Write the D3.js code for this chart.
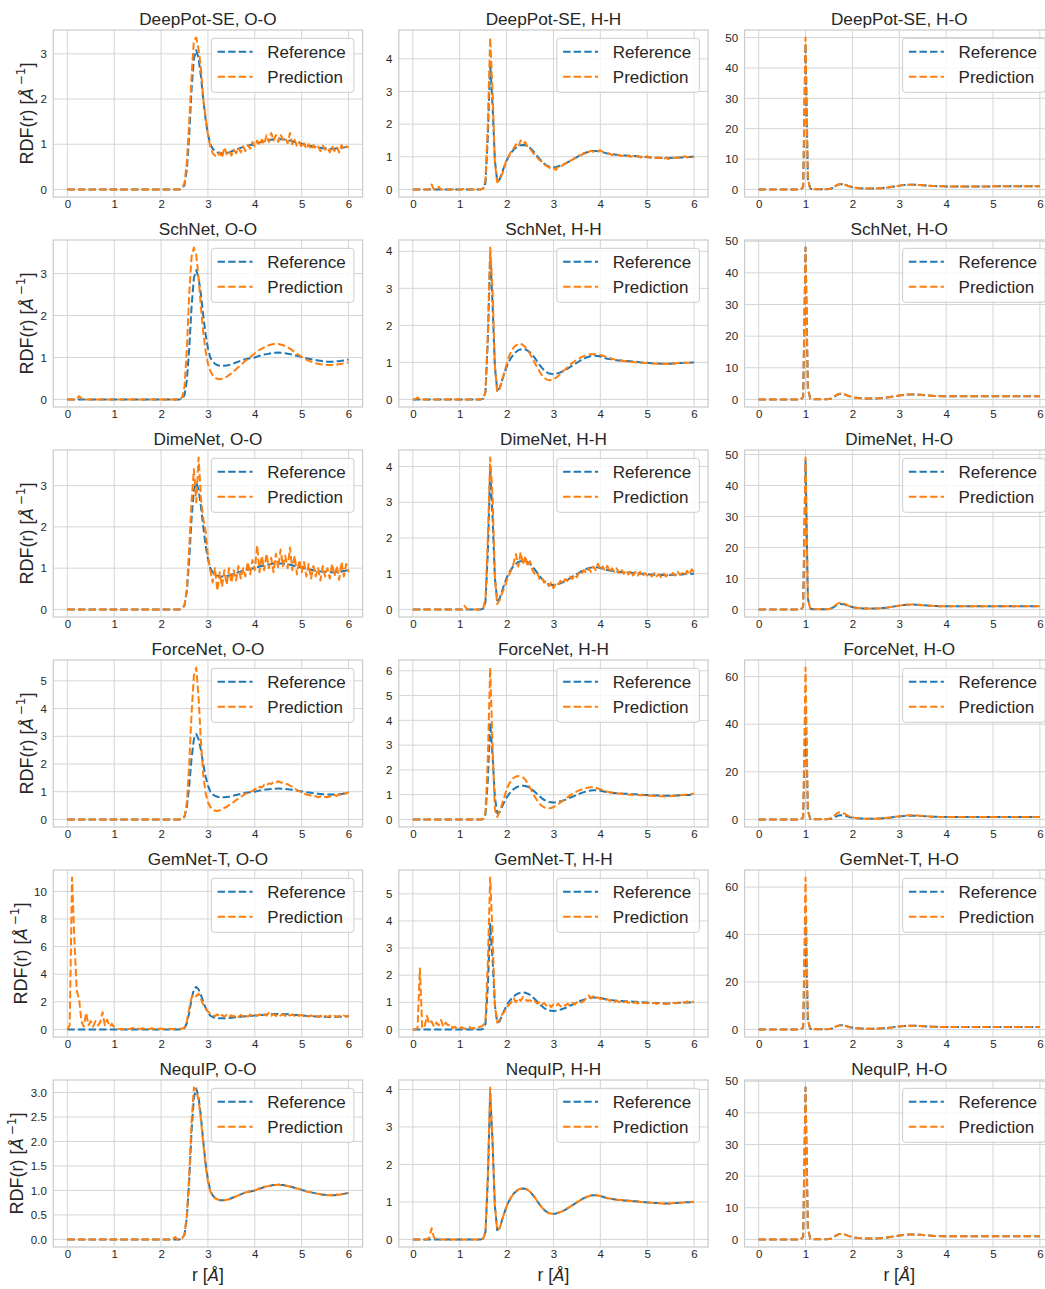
<!DOCTYPE html>
<html><head><meta charset="utf-8">
<script src="https://cdn.jsdelivr.net/npm/d3@7"></script>
<style>
body{margin:0;background:#fff}
svg{display:block}
text{font-family:"Liberation Sans",Arial,sans-serif;fill:#262626}
</style>
</head><body>
<svg id="chart" width="1045" height="1289"></svg>
<script>
// ---------- data ----------
const r = [
0,0.05,0.1,0.15,0.2,0.25,0.3,0.35,0.4,0.45,
0.5,0.55,0.6,0.65,0.7,0.75,0.8,0.85,0.9,0.95,
1,1.05,1.1,1.15,1.2,1.25,1.3,1.35,1.4,1.45,
1.5,1.55,1.6,1.65,1.7,1.75,1.8,1.85,1.9,1.95,
2,2.05,2.1,2.15,2.2,2.25,2.3,2.35,2.4,2.45,
2.5,2.55,2.6,2.65,2.7,2.75,2.8,2.85,2.9,2.95,
3,3.05,3.1,3.15,3.2,3.25,3.3,3.35,3.4,3.45,
3.5,3.55,3.6,3.65,3.7,3.75,3.8,3.85,3.9,3.95,
4,4.05,4.1,4.15,4.2,4.25,4.3,4.35,4.4,4.45,
4.5,4.55,4.6,4.65,4.7,4.75,4.8,4.85,4.9,4.95,
5,5.05,5.1,5.15,5.2,5.25,5.3,5.35,5.4,5.45,
5.5,5.55,5.6,5.65,5.7,5.75,5.8,5.85,5.9,5.95,
6];

const models = ["DeepPot-SE","SchNet","DimeNet","ForceNet","GemNet-T","NequIP"];
const pairs = ["O-O","H-H","H-O"];
const seriesNames = ["Reference","Prediction"];
const xTicks = [0,1,2,3,4,5,6];

const ticksOO = [0,1,2,3];
const ticksHH = [0,1,2,3,4];
const ticksHO = [0,10,20,30,40,50];
const ticksOO5 = [0,1,2,3,4,5];
const ticksHH6 = [0,1,2,3,4,5,6];
const ticksHO60 = [0,20,40,60];
const ticksOO10 = [0,2,4,6,8,10];
const ticksHH5 = [0,1,2,3,4,5];
const ticksOOdec = [0,0.5,1,1.5,2,2.5,3];

const refOO = [
0,0,0,0,0,0,0,0,0,0,
0,0,0,0,0,0,0,0,0,0,
0,0,0,0,0,0,0,0,0,0,
0,0,0,0,0,0,0,0,0,0,
0,0,0,0,0,0,0,0,0,0.02,
0.1,0.45,1.2,2.2,2.9,3.08,2.9,2.5,2.0,1.55,
1.22,1.0,0.9,0.85,0.82,0.8,0.8,0.8,0.81,0.82,
0.84,0.86,0.88,0.9,0.92,0.94,0.96,0.97,0.98,0.99,
1.0,1.02,1.04,1.05,1.07,1.08,1.09,1.1,1.11,1.11,
1.12,1.11,1.11,1.1,1.09,1.08,1.07,1.05,1.04,1.03,
1.01,1.0,0.98,0.97,0.96,0.95,0.94,0.93,0.92,0.91,
0.91,0.9,0.9,0.9,0.9,0.91,0.91,0.92,0.93,0.94,
0.95];

const refHH = [
0,0,0,0,0,0,0,0,0,0,
0,0,0,0,0,0,0,0,0,0,
0,0,0,0,0,0,0,0,0,0,
0.02,0.2,1.6,3.9,2.6,0.9,0.25,0.3,0.5,0.7,
0.88,1.02,1.13,1.22,1.28,1.33,1.35,1.36,1.35,1.32,
1.27,1.2,1.12,1.03,0.94,0.86,0.79,0.74,0.7,0.69,
0.68,0.69,0.71,0.73,0.76,0.79,0.83,0.87,0.91,0.95,
0.99,1.03,1.07,1.1,1.13,1.15,1.17,1.18,1.18,1.17,
1.16,1.14,1.12,1.1,1.09,1.08,1.07,1.06,1.05,1.05,
1.04,1.04,1.03,1.03,1.02,1.02,1.01,1.0,1.0,0.99,
0.99,0.98,0.98,0.97,0.97,0.97,0.96,0.96,0.96,0.96,
0.96,0.97,0.97,0.97,0.98,0.98,0.99,0.99,0.99,1.0,
1.0];

const refHO = [
0,0,0,0,0,0,0,0,0,0,
0,0,0,0,0,0,0,0,0,0.8,
48,3.5,0.3,0.05,0.02,0.02,0.02,0.03,0.04,0.06,
0.12,0.3,0.7,1.2,1.6,1.75,1.7,1.5,1.2,0.95,
0.75,0.6,0.5,0.42,0.36,0.32,0.3,0.29,0.29,0.3,
0.32,0.35,0.4,0.46,0.54,0.63,0.74,0.86,0.98,1.1,
1.22,1.33,1.42,1.49,1.53,1.55,1.55,1.53,1.49,1.44,
1.38,1.32,1.26,1.2,1.15,1.11,1.07,1.04,1.02,1.0,
0.99,0.98,0.98,0.98,0.98,0.98,0.98,0.98,0.99,0.99,
0.99,0.99,0.99,0.99,0.99,0.99,0.99,0.99,0.99,0.99,
1,1,1,1,1,1,1,1,1,1,
1,1,1,1,1,1,1,1,1,1,
1];

const predDeepPotOO = [
0,0,0,0,0,0,0,0,0,0,
0,0,0,0,0,0,0,0,0,0,
0,0,0,0,0,0,0,0,0,0,
0,0,0,0,0,0,0,0,0,0,
0,0,0,0,0,0,0,0,0,0.02,
0.15,0.6,1.5,2.5,3.3,3.36,3.1,2.7,2.0,1.6,
1.2,0.95,0.8,0.75,0.72,0.82,0.7,0.93,0.78,0.85,
0.75,0.88,0.8,0.92,0.82,0.95,0.85,0.98,0.9,1.05,
0.95,1.08,0.98,1.1,1.0,1.2,1.05,1.25,1.08,1.2,
1.05,1.22,1.1,1.15,1.02,1.25,1.0,1.1,0.95,1.05,
0.92,1.02,0.9,1.0,0.88,0.98,0.9,0.95,0.85,0.97,
0.88,0.93,0.82,0.96,0.85,0.95,0.82,0.98,0.88,0.95,
0.93];

const predDeepPotHH = [
0,0,0,0,0,0,0,0,0.15,0,
0,0.08,0,0,0,0,0,0,0.03,0,
0,0,0.02,0,0,0,0,0,0,0,
0.02,0.3,2.0,4.65,3.0,0.8,0.22,0.28,0.45,0.65,
0.95,1.0,1.2,1.25,1.38,1.3,1.5,1.4,1.45,1.3,
1.25,1.15,1.05,0.98,0.9,0.85,0.78,0.72,0.68,0.62,
0.65,0.6,0.7,0.68,0.75,0.8,0.82,0.88,0.9,0.95,
0.98,1.05,1.05,1.12,1.1,1.15,1.18,1.15,1.2,1.18,
1.2,1.15,1.12,1.1,1.1,1.05,1.08,1.05,1.06,1.02,
1.05,1.02,1.03,1.0,1.02,0.98,1.03,0.98,1.0,0.96,
1.02,0.97,1.0,0.95,0.98,0.96,0.97,0.92,0.98,0.93,
0.97,0.95,0.98,0.96,1.0,0.97,1.02,0.98,1.0,0.98,
1.0];

const predDeepPotHO = [
0,0,0,0,0,0,0,0,0,0,
0,0,0,0,0,0,0,0,0,0.9,
50,3.2,0.25,0.05,0.02,0.02,0.03,0.03,0.05,0.07,
0.14,0.35,0.75,1.25,1.65,1.8,1.72,1.5,1.2,0.95,
0.74,0.6,0.5,0.42,0.36,0.32,0.3,0.29,0.29,0.3,
0.32,0.36,0.41,0.47,0.55,0.64,0.75,0.87,0.99,1.11,
1.23,1.34,1.43,1.5,1.54,1.56,1.55,1.53,1.49,1.44,
1.38,1.32,1.26,1.2,1.15,1.1,1.07,1.04,1.02,1.0,
0.99,0.98,0.98,0.98,0.98,0.98,0.98,0.98,0.99,0.99,
0.99,0.99,0.99,0.99,0.99,0.99,0.99,0.99,0.99,0.99,
1,1,1,1,1,1,1,1,1,1,
1,1,1,1,1,1,1,1,1,1,
1];

const predSchNetOO = [
0,0,0,0,0,0.08,0.02,0.03,0,0,
0,0,0,0,0,0,0,0,0,0,
0,0,0,0,0,0,0,0,0,0,
0,0,0,0,0,0,0,0,0,0,
0,0,0,0,0,0,0,0,0,0.05,
0.3,1.2,2.5,3.4,3.62,3.45,2.9,2.2,1.6,1.15,
0.85,0.68,0.58,0.52,0.49,0.48,0.49,0.51,0.54,0.58,
0.62,0.67,0.72,0.77,0.82,0.87,0.92,0.97,1.01,1.05,
1.1,1.14,1.18,1.21,1.24,1.27,1.29,1.31,1.32,1.32,
1.32,1.31,1.29,1.27,1.24,1.21,1.17,1.13,1.09,1.05,
1.01,0.98,0.95,0.92,0.9,0.88,0.86,0.85,0.84,0.83,
0.82,0.82,0.82,0.82,0.82,0.83,0.84,0.85,0.86,0.87,
0.88];

const predSchNetHH = [
0,0,0.05,0,0,0,0,0,0,0,
0,0,0,0,0,0,0,0,0,0,
0,0,0,0,0,0,0,0,0,0,
0.02,0.2,1.8,4.1,3.0,0.9,0.2,0.28,0.48,0.72,
0.95,1.15,1.3,1.4,1.46,1.5,1.5,1.47,1.41,1.33,
1.23,1.11,0.99,0.87,0.76,0.66,0.59,0.54,0.52,0.52,
0.54,0.58,0.63,0.69,0.75,0.81,0.87,0.93,0.98,1.03,
1.07,1.11,1.14,1.17,1.19,1.21,1.22,1.22,1.22,1.21,
1.2,1.18,1.16,1.14,1.12,1.1,1.08,1.07,1.06,1.05,
1.04,1.03,1.02,1.02,1.01,1.0,1.0,0.99,0.99,0.98,
0.98,0.97,0.97,0.97,0.96,0.96,0.96,0.96,0.96,0.96,
0.97,0.97,0.97,0.98,0.98,0.98,0.99,0.99,0.99,1.0,
1.0];

const predSchNetHO = [
0,0,0,0,0,0,0,0,0,0,
0,0,0,0,0,0,0,0,0,0.7,
48,3.5,0.3,0.05,0.02,0.02,0.02,0.03,0.04,0.06,
0.12,0.32,0.75,1.3,1.75,1.9,1.8,1.55,1.22,0.95,
0.74,0.58,0.47,0.39,0.33,0.29,0.27,0.26,0.26,0.27,
0.29,0.33,0.38,0.45,0.53,0.63,0.74,0.86,0.99,1.12,
1.25,1.36,1.45,1.52,1.57,1.59,1.59,1.57,1.52,1.46,
1.39,1.32,1.25,1.19,1.14,1.1,1.06,1.03,1.01,0.99,
0.98,0.97,0.97,0.97,0.97,0.98,0.98,0.98,0.99,0.99,
0.99,0.99,0.99,0.99,0.99,0.99,0.99,0.99,0.99,0.99,
1,1,1,1,1,1,1,1,1,1,
1,1,1,1,1,1,1,1,1,1,
1];

const predDimeNetOO = [
0,0,0,0,0,0,0,0,0,0,
0,0,0,0,0,0,0,0,0,0,
0,0,0,0,0,0,0,0,0,0,
0,0,0,0,0,0,0,0,0,0,
0,0,0,0,0,0,0,0,0,0.02,
0.1,0.5,1.5,2.6,3.4,2.6,3.68,2.7,2.2,1.9,
1.3,0.95,0.65,1.0,0.45,0.9,0.55,0.95,0.6,1.0,
0.65,0.95,0.7,1.05,0.75,1.0,0.8,1.15,0.85,1.2,
0.95,1.55,0.9,1.3,0.95,1.35,1.0,1.25,0.9,1.35,
1.0,1.45,1.05,1.3,1.0,1.5,0.95,1.3,0.85,1.2,
0.9,1.15,0.8,1.1,0.75,1.05,0.8,1.0,0.7,1.05,
0.8,1.0,0.75,1.1,0.8,1.05,0.72,1.15,0.8,1.1,
0.9];

const predDimeNetHH = [
0,0,0,0,0,0,0,0,0,0,
0,0,0,0,0,0,0,0,0,0,
0,0,0.1,0.02,0,0,0,0,0,0,
0.02,0.3,2.0,4.25,3.2,0.9,0.15,0.25,0.45,0.6,
0.8,0.95,1.1,1.3,1.55,1.2,1.6,1.25,1.5,1.2,
1.35,1.1,1.0,1.05,0.85,0.9,0.75,0.8,0.65,0.75,
0.6,0.72,0.68,0.8,0.72,0.85,0.8,0.92,0.85,0.98,
0.9,1.05,1.0,1.1,1.02,1.15,1.05,1.2,1.1,1.28,
1.1,1.2,1.08,1.22,1.05,1.15,1.05,1.15,1.02,1.12,
1.0,1.1,0.98,1.08,0.95,1.05,0.95,1.05,0.92,1.02,
0.95,1.0,0.92,1.02,0.93,0.98,0.9,1.0,0.92,0.98,
0.95,1.02,0.95,1.05,0.97,1.02,0.95,1.08,0.98,1.12,
1.05];

const predDimeNetHO = [
0,0,0,0,0,0,0,0,0,0,
0,0,0,0,0,0,0,0,0,0.8,
49,3.4,0.3,0.05,0.02,0.03,0.02,0.04,0.05,0.08,
0.15,0.4,0.9,1.5,2.0,2.2,2.0,1.7,1.3,1.0,
0.8,0.62,0.5,0.42,0.36,0.32,0.3,0.29,0.29,0.3,
0.32,0.35,0.4,0.46,0.54,0.63,0.74,0.86,0.98,1.1,
1.22,1.33,1.42,1.49,1.53,1.55,1.55,1.53,1.49,1.44,
1.38,1.32,1.26,1.2,1.15,1.11,1.07,1.04,1.02,1.0,
0.99,0.98,0.98,0.98,0.98,0.98,0.98,0.98,0.99,0.99,
0.99,0.99,0.99,0.99,0.99,0.99,0.99,0.99,0.99,0.99,
1,1,1,1,1,1,1,1,1,1,
1,1,1,1,1,1,1,1,1,1,
1];

const predForceNetOO = [
0,0,0,0,0,0,0,0,0,0,
0,0,0,0,0,0,0,0,0,0,
0,0,0,0,0,0,0,0,0,0,
0,0,0,0,0,0,0,0,0,0,
0,0,0,0,0,0,0,0,0,0.01,
0.1,0.6,2.0,3.8,5.2,5.48,4.4,2.8,1.6,0.95,
0.62,0.45,0.36,0.31,0.3,0.33,0.36,0.42,0.45,0.52,
0.55,0.63,0.7,0.75,0.82,0.86,0.93,0.95,1.0,1.02,
1.1,1.08,1.18,1.15,1.25,1.22,1.3,1.28,1.35,1.32,
1.38,1.33,1.32,1.28,1.27,1.22,1.18,1.12,1.05,1.02,
0.97,0.93,0.9,0.88,0.86,0.82,0.84,0.8,0.83,0.79,
0.82,0.8,0.84,0.82,0.87,0.85,0.9,0.88,0.95,0.93,
1.0];

const predForceNetHH = [
0,0,0,0,0,0,0,0,0,0,
0,0,0,0,0,0,0,0,0,0,
0,0,0,0,0,0,0,0,0,0,
0.02,0.3,2.5,6.13,3.0,0.4,0.1,0.3,0.6,0.9,
1.2,1.42,1.58,1.68,1.73,1.75,1.74,1.7,1.6,1.45,
1.28,1.1,0.92,0.77,0.64,0.55,0.49,0.46,0.45,0.46,
0.5,0.55,0.61,0.68,0.75,0.82,0.89,0.96,1.02,1.08,
1.13,1.17,1.21,1.24,1.27,1.29,1.3,1.3,1.28,1.25,
1.22,1.18,1.15,1.12,1.1,1.08,1.07,1.06,1.05,1.04,
1.03,1.02,1.01,1.0,1.0,0.99,0.99,0.98,0.98,0.97,
0.97,0.96,0.96,0.95,0.95,0.94,0.94,0.93,0.93,0.94,
0.94,0.95,0.96,0.97,0.98,0.99,1.0,1.01,1.02,1.03,
1.04];

const predForceNetHO = [
0,0,0,0,0,0,0,0,0,0,
0,0,0,0,0,0,0,0,0,1.0,
63.8,4.0,0.3,0.05,0.02,0.02,0.02,0.03,0.05,0.08,
0.2,0.6,1.3,2.2,2.9,3.1,2.8,2.2,1.6,1.2,
0.9,0.7,0.55,0.45,0.38,0.33,0.3,0.29,0.29,0.3,
0.32,0.36,0.42,0.5,0.6,0.72,0.85,0.98,1.12,1.25,
1.38,1.5,1.6,1.68,1.73,1.75,1.74,1.7,1.64,1.56,
1.47,1.38,1.3,1.22,1.16,1.11,1.07,1.04,1.02,1.0,
0.99,0.98,0.98,0.98,0.98,0.98,0.98,0.98,0.99,0.99,
0.99,0.99,0.99,0.99,0.99,0.99,0.99,0.99,0.99,0.99,
1,1,1,1,1,1,1,1,1,1,
1,1,1,1,1,1,1,1,1,1,
1];

const predGemNetOO = [
0,0.3,11.0,6.5,2.8,2.2,0.6,0.2,1.2,0.3,
0.6,0.2,0.6,0.3,0.5,1.25,0.3,0.7,0.2,0.4,
0.15,0.05,0.02,0.05,0.01,0.08,0.02,0.05,0.1,0.02,
0.06,0.02,0.08,0.03,0.05,0.02,0.08,0.02,0.05,0.03,
0.06,0.02,0.05,0.03,0.04,0.01,0.05,0.02,0.05,0.05,
0.15,0.6,1.5,2.3,2.55,2.4,2.6,2.2,1.8,1.55,
1.3,1.15,1.05,0.95,1.1,0.9,1.05,0.92,1.05,0.9,
1.02,0.92,1.05,0.9,1.05,0.95,1.05,0.92,1.08,0.95,
1.05,0.98,1.1,0.95,1.08,1.0,1.2,1.0,1.1,0.98,
1.12,1.0,1.1,0.98,1.1,1.0,1.08,0.98,1.1,0.98,
1.05,0.95,1.05,0.92,1.02,0.92,1.0,0.9,1.0,0.88,
0.98,0.9,1.0,0.88,0.98,0.9,0.98,0.88,1.0,0.92,
1.02];

const predGemNetHH = [
0,0,0.05,2.25,0.05,0.1,0.5,0.2,0.3,0.1,
0.25,0.15,0.35,0.1,0.25,0.15,0.2,0.05,0.1,0.02,
0.05,0.08,0.02,0.05,0.1,0.03,0.05,0.02,0.08,0.1,
0.15,0.35,2.5,5.6,3.5,0.9,0.25,0.35,0.55,0.65,
0.8,0.9,1.0,1.15,1.0,1.15,1.05,1.2,1.1,1.05,
1.08,1.0,1.05,0.95,1.0,0.9,0.98,0.88,0.95,0.82,
0.92,0.85,0.95,0.85,0.92,0.88,0.95,0.88,0.98,0.92,
1.0,0.95,1.0,1.05,1.15,1.25,1.15,1.22,1.15,1.18,
1.12,1.15,1.08,1.12,1.05,1.08,1.02,1.06,1.0,1.05,
1.0,1.03,0.98,1.02,0.97,1.01,0.96,1.0,0.96,0.99,
0.96,0.98,0.95,0.98,0.94,0.97,0.94,0.96,0.93,0.97,
0.95,0.98,0.96,0.99,0.97,1.02,0.98,1.03,0.99,1.02,
1.0];

const predGemNetHO = [
0,0,0,0,0,0,0,0,0,0,
0,0,0,0,0,0,0,0,0,1.0,
64,4.0,0.4,0.06,0.03,0.02,0.02,0.03,0.05,0.08,
0.14,0.35,0.75,1.25,1.6,1.75,1.68,1.48,1.2,0.95,
0.75,0.6,0.5,0.42,0.36,0.32,0.3,0.29,0.29,0.3,
0.32,0.35,0.4,0.46,0.54,0.63,0.74,0.86,0.98,1.1,
1.22,1.33,1.42,1.49,1.53,1.55,1.55,1.53,1.49,1.44,
1.38,1.32,1.26,1.2,1.15,1.11,1.07,1.04,1.02,1.0,
0.99,0.98,0.98,0.98,0.98,0.98,0.98,0.98,0.99,0.99,
0.99,0.99,0.99,0.99,0.99,0.99,0.99,0.99,0.99,0.99,
1,1,1,1,1,1,1,1,1,1,
1,1,1,1,1,1,1,1,1,1,
1];

const predNequIPOO = [
0,0,0,0,0,0,0,0,0,0,
0,0,0,0,0,0,0,0,0,0,
0,0,0,0,0,0,0,0,0,0,
0,0,0,0,0,0,0,0,0,0,
0,0,0,0,0,0,0.05,0,0,0.02,
0.1,0.5,1.3,2.4,3.1,3.05,2.85,2.45,1.95,1.5,
1.18,0.98,0.88,0.84,0.82,0.8,0.8,0.8,0.81,0.82,
0.84,0.86,0.88,0.9,0.92,0.94,0.96,0.97,0.98,0.99,
1.0,1.02,1.04,1.05,1.07,1.08,1.09,1.1,1.11,1.11,
1.12,1.11,1.11,1.1,1.09,1.08,1.07,1.05,1.04,1.03,
1.01,1.0,0.98,0.97,0.96,0.95,0.94,0.93,0.92,0.91,
0.91,0.9,0.9,0.9,0.9,0.91,0.91,0.92,0.93,0.94,
0.95];

const predNequIPHH = [
0,0,0,0,0,0,0,0.05,0.3,0.05,
0,0,0,0,0,0,0,0,0,0,
0,0,0,0,0,0,0,0,0,0,
0.02,0.2,1.7,4.05,2.6,0.9,0.25,0.3,0.5,0.7,
0.88,1.02,1.13,1.22,1.28,1.33,1.35,1.36,1.35,1.32,
1.27,1.2,1.12,1.03,0.94,0.86,0.79,0.74,0.7,0.69,
0.68,0.69,0.71,0.73,0.76,0.79,0.83,0.87,0.91,0.95,
0.99,1.03,1.07,1.1,1.13,1.15,1.17,1.18,1.18,1.17,
1.16,1.14,1.12,1.1,1.09,1.08,1.07,1.06,1.05,1.05,
1.04,1.04,1.03,1.03,1.02,1.02,1.01,1.0,1.0,0.99,
0.99,0.98,0.98,0.97,0.97,0.97,0.96,0.96,0.96,0.96,
0.96,0.97,0.97,0.97,0.98,0.98,0.99,0.99,0.99,1.0,
1.0];

const predNequIPHO = [
0,0,0,0,0,0,0,0,0,0,
0,0,0,0,0,0,0,0,0,0.8,
48,3.5,0.3,0.05,0.02,0.02,0.02,0.03,0.04,0.06,
0.12,0.3,0.7,1.2,1.6,1.75,1.7,1.5,1.2,0.95,
0.75,0.6,0.5,0.42,0.36,0.32,0.3,0.29,0.29,0.3,
0.32,0.35,0.4,0.46,0.54,0.63,0.74,0.86,0.98,1.1,
1.22,1.33,1.42,1.49,1.53,1.55,1.55,1.53,1.49,1.44,
1.38,1.32,1.26,1.2,1.15,1.11,1.07,1.04,1.02,1.0,
0.99,0.98,0.98,0.98,0.98,0.98,0.98,0.98,0.99,0.99,
0.99,0.99,0.99,0.99,0.99,0.99,0.99,0.99,0.99,0.99,
1,1,1,1,1,1,1,1,1,1,
1,1,1,1,1,1,1,1,1,1,
1];

// ---------- panel table ----------
const predictions = [
  [predDeepPotOO, predDeepPotHH, predDeepPotHO],
  [predSchNetOO, predSchNetHH, predSchNetHO],
  [predDimeNetOO, predDimeNetHH, predDimeNetHO],
  [predForceNetOO, predForceNetHH, predForceNetHO],
  [predGemNetOO, predGemNetHH, predGemNetHO],
  [predNequIPOO, predNequIPHH, predNequIPHO]
];
const references = [refOO, refHH, refHO];
const yTickSets = [
  [ticksOO, ticksHH, ticksHO],
  [ticksOO, ticksHH, ticksHO],
  [ticksOO, ticksHH, ticksHO],
  [ticksOO5, ticksHH6, ticksHO60],
  [ticksOO10, ticksHH5, ticksHO60],
  [ticksOOdec, ticksHH, ticksHO]
];

// ---------- layout ----------
const colLeft = [53.3, 398.8, 744.6];
const axW = 309.3, axH = 167, rowTop0 = 30, rowStep = 210;
const colors = {Reference: "#1f77b4", Prediction: "#ff7f0e"};
const dash = "7.4,3.2";
const gridColor = "#d5d5d5", spineColor = "#cccccc";
const tickFont = 11.5;

const svg = d3.select("#chart");
svg.append("rect").attr("width",1045).attr("height",1289).attr("fill","#fff");
const defs = svg.append("defs");

models.forEach((model, row) => {
  pairs.forEach((pair, col) => {
    const ref = references[col], pred = predictions[row][col];
    if (ref.length !== r.length || pred.length !== r.length) console.error("length mismatch", model, pair, ref.length, pred.length);
    const left = colLeft[col], top = rowTop0 + rowStep * row;
    const M = d3.max([d3.max(ref), d3.max(pred)]);
    const x = d3.scaleLinear().domain([-0.3, 6.3]).range([left, left + axW]);
    const y = d3.scaleLinear().domain([-0.05 * M, 1.05 * M]).range([top + axH, top]);
    const g = svg.append("g");
    const ticks = yTickSets[row][col];
    const fmt = ticks.some(t => t % 1 !== 0) ? d3.format(".1f") : d3.format("d");

    // grid
    g.selectAll(".gx").data(xTicks).join("line")
      .attr("x1", d => x(d)).attr("x2", d => x(d))
      .attr("y1", top).attr("y2", top + axH)
      .attr("stroke", gridColor).attr("stroke-width", 1);
    g.selectAll(".gy").data(ticks).join("line")
      .attr("x1", left).attr("x2", left + axW)
      .attr("y1", d => y(d)).attr("y2", d => y(d))
      .attr("stroke", gridColor).attr("stroke-width", 1);

    // spines
    g.append("rect").attr("x", left).attr("y", top).attr("width", axW).attr("height", axH)
      .attr("fill", "none").attr("stroke", spineColor).attr("stroke-width", 1.25);

    // axes
    const ax = g.append("g").attr("transform", `translate(0,${top + axH})`)
      .call(d3.axisBottom(x).tickValues(xTicks).tickSize(0).tickPadding(11).tickFormat(d3.format("d")));
    ax.select(".domain").remove();
    ax.selectAll("text").attr("font-size", tickFont).attr("fill", "#262626")
      .attr("font-family", '"Liberation Sans",Arial,sans-serif').attr("dy", 0);
    const ay = g.append("g").attr("transform", `translate(${left},0)`)
      .call(d3.axisLeft(y).tickValues(ticks).tickSize(0).tickPadding(6.5).tickFormat(fmt));
    ay.select(".domain").remove();
    ay.selectAll("text").attr("font-size", tickFont).attr("fill", "#262626")
      .attr("font-family", '"Liberation Sans",Arial,sans-serif');

    // clip
    const cid = `clip-${row}-${col}`;
    defs.append("clipPath").attr("id", cid).append("rect")
      .attr("x", left).attr("y", top).attr("width", axW).attr("height", axH);

    const line = d3.line().x((d, i) => x(r[i])).y(d => y(d));
    const plot = g.append("g").attr("clip-path", `url(#${cid})`);
    [[ref, "Reference"], [pred, "Prediction"]].forEach(([vals, name]) => {
      plot.append("path").datum(vals).attr("d", line)
        .attr("fill", "none").attr("stroke", colors[name]).attr("stroke-width", 2)
        .attr("stroke-dasharray", dash).attr("stroke-linejoin", "round");
    });

    // title
    g.append("text").attr("x", left + axW / 2).attr("y", top - 5)
      .attr("text-anchor", "middle").attr("font-size", 17.2).text(`${model}, ${pair}`);

    // legend
    const lw = 142.6, lh = 54;
    const lx = left + axW - 8.7 - lw, ly = top + 8.3;
    const lg = g.append("g");
    lg.append("rect").attr("x", lx).attr("y", ly).attr("width", lw).attr("height", lh)
      .attr("rx", 3).attr("fill", "rgba(255,255,255,0.8)").attr("stroke", "#cccccc").attr("stroke-width", 1);
    seriesNames.forEach((name, i) => {
      const cy = ly + 13.4 + 25 * i;
      lg.append("line").attr("x1", lx + 6.3).attr("x2", lx + 41.3).attr("y1", cy).attr("y2", cy)
        .attr("stroke", colors[name]).attr("stroke-width", 2).attr("stroke-dasharray", dash);
      lg.append("text").attr("x", lx + 56).attr("y", cy + 5.8).attr("font-size", 17).text(name);
    });

    // y label on first column
    if (col === 0) {
      let maxW = 0;
      ay.selectAll("text").each(function () { maxW = Math.max(maxW, this.getComputedTextLength()); });
      const lxp = left - 6.5 - maxW - 7.5;
      const cyp = top + axH / 2;
      const t = g.append("text").attr("transform", `translate(${lxp},${cyp}) rotate(-90)`)
        .attr("text-anchor", "middle").attr("font-size", 18);
      t.append("tspan").text("RDF(r) [");
      t.append("tspan").attr("font-family", '"DejaVu Sans",sans-serif').attr("font-style", "italic")
        .attr("font-size", 16.5).text("Å");
      t.append("tspan").attr("font-family", '"DejaVu Sans",sans-serif').attr("font-size", 12)
        .attr("dy", -7.5).attr("dx", 3).text("−1");
      t.append("tspan").attr("dy", 7.5).text("]");
    }
    // x label on last row
    if (row === models.length - 1) {
      const t = g.append("text").attr("x", left + axW / 2).attr("y", 1281)
        .attr("text-anchor", "middle").attr("font-size", 17.5);
      t.append("tspan").text("r [");
      t.append("tspan").attr("font-family", '"DejaVu Sans",sans-serif').attr("font-style", "italic")
        .attr("font-size", 16.5).text("Å");
      t.append("tspan").text("]");
    }
  });
});
</script>
</body></html>
